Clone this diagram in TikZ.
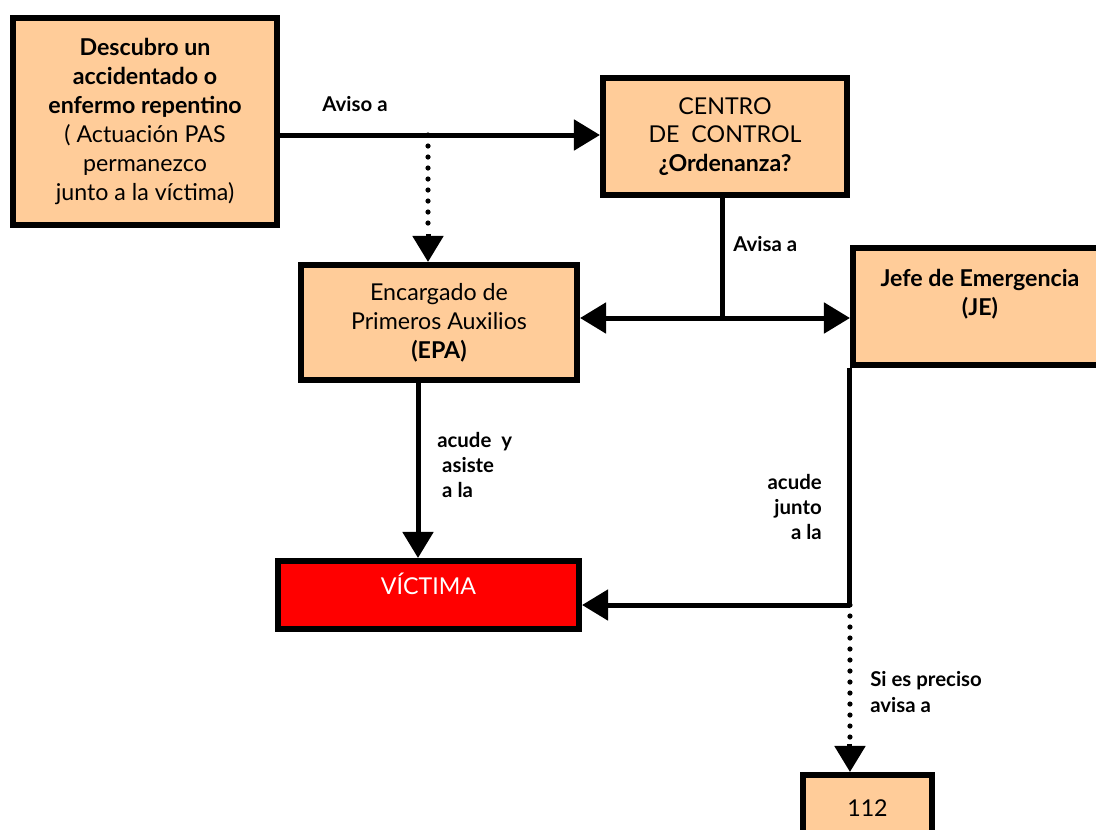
\documentclass[tikz,border=0pt]{standalone}
\usepackage{fontspec}
\setmainfont{Lato}
\usetikzlibrary{arrows.meta}

\definecolor{naranja}{RGB}{255,204,153}
\definecolor{rojo}{RGB}{255,0,0}

\begin{document}
\begin{tikzpicture}[x=0.025cm, y=-0.025cm,
    caja/.style={draw, line width=0.15cm, fill=naranja, align=center, inner sep=0pt,
        font=\fontsize{16.5}{20.5}\selectfont},
    flecha/.style={line width=0.125cm, -{Triangle[length=0.65cm, width=0.75cm]}},
    linea/.style={line width=0.125cm},
    puntos/.style={line width=0.13cm, line cap=round, dash pattern=on 0pt off 0.275cm},
    etiqueta/.style={font=\fontsize{14.5}{17.8}\selectfont\bfseries, inner sep=0pt}]
    \useasboundingbox (0,0) rectangle (1096,829);

    % Cajas
    \node[caja, minimum width=6.6cm, minimum height=5.175cm] (desc) at (145,121.5)
        {\textbf{Descubro un}\\\textbf{accidentado o}\\\textbf{enfermo repentino}\\
         ( Actuación PAS\\permanezco\\junto a la víctima)};
    \node[caja, minimum width=6.1cm, minimum height=2.925cm] (centro) at (725,136.5)
        {CENTRO\\DE\ \ CONTROL\\\textbf{¿Ordenanza?}};
    \node[caja, minimum width=6.9cm, minimum height=2.875cm] (epa) at (439,322.5)
        {Encargado de\\Primeros Auxilios\\\textbf{(EPA)}};
    \node[caja, minimum width=6.35cm, minimum height=2.925cm] (je) at (980,306.5)
        {\textbf{Jefe de Emergencia}\\\textbf{(JE)}\\\mbox{}};
    \node[caja, fill=rojo, text=white, minimum width=7.525cm, minimum height=1.7cm] (victima) at (428.5,595)
        {VÍCTIMA\\[-0.3em]};
    \node[caja, minimum width=3.225cm, minimum height=1.675cm] (n112) at (867.5,808.5)
        {112};

    % Puntos de cruce
    \coordinate (aviso) at (428,135);
    \coordinate (cruce) at (722,318);
    \coordinate (esquina) at (je.south west |- 0,605);

    % Conexiones
    \draw[flecha] (desc.east |- aviso) -- (centro.west |- aviso);
    \draw[puntos] (aviso) -- ([yshift=0.8cm]aviso |- epa.north);
    \draw[flecha] ([yshift=0.7cm]aviso |- epa.north) -- (aviso |- epa.north);
    \draw[linea] (centro.south -| cruce) -- (cruce);
    \draw[flecha] (cruce) -- (epa.east |- cruce);
    \draw[flecha] (cruce) -- (je.west |- cruce);
    \draw[flecha] ([xshift=-0.525cm]epa.south) -- ([xshift=-0.525cm]epa.south |- victima.north);
    \draw[linea] (je.south west) -- (esquina);
    \draw[flecha] (esquina) -- (victima.east |- esquina);
    \draw[puntos] (esquina) -- ([yshift=0.8cm]esquina |- n112.north);
    \draw[flecha] ([yshift=0.7cm]esquina |- n112.north) -- (esquina |- n112.north);

    % Etiquetas
    \node[etiqueta] (l1) at (355,104) {Aviso a};
    \node[etiqueta, anchor=west] (l2) at (733,244) {Avisa a};
    \node[etiqueta, anchor=west, align=left] (l3) at (437,465) {acude\ \ y\\\ asiste\\\ a la};
    \node[etiqueta, anchor=east, align=right] (l4) at (822,507) {acude\\junto\\a la};
    \node[etiqueta, anchor=west, align=left] (l5) at (870,692) {Si es preciso\\avisa a};
\end{tikzpicture}
\end{document}
